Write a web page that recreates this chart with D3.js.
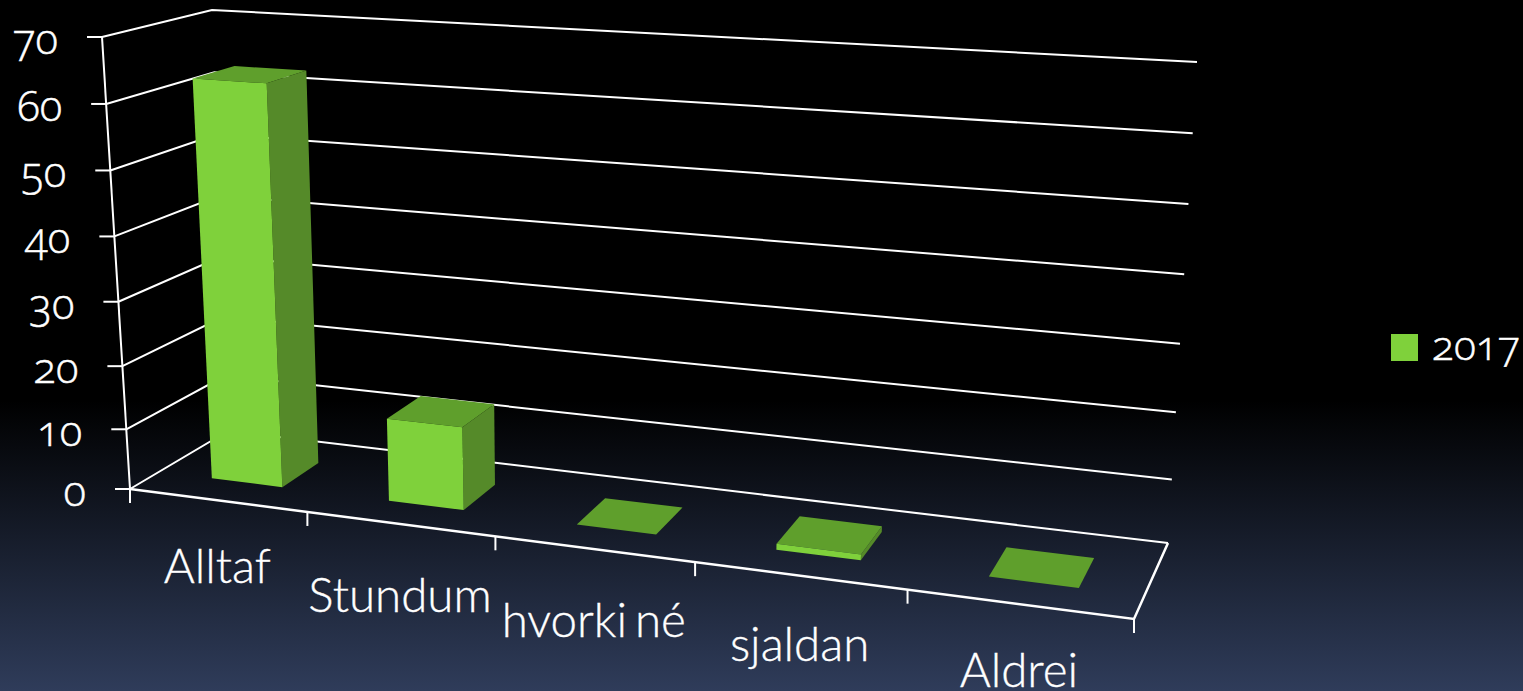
<!DOCTYPE html>
<meta charset="utf-8">
<style>
html, body { margin: 0; padding: 0; background: #000; overflow: hidden; }
svg { display: block; }
text {
  font-family: Lato, sans-serif;
  fill: white;
}
.xlabel { word-spacing: -5px; stroke: white; stroke-width: 0.35; }
.ylabel, .legendlabel {
  font-family: "Open Sans", sans-serif;
  font-variant-numeric: oldstyle-nums;
  font-weight: 300;
  stroke: white;
  stroke-width: 0.5;
}
.grid, .axis { fill: none; stroke: white; stroke-width: 2; }
.axis.front { stroke-width: 2.5; }
</style>
<body>
<script src="https://d3js.org/d3.v7.min.js"></script>
<script>

var width = 1523,
    height = 691;

var categories = ["Alltaf", "Stundum", "hvorki né", "sjaldan", "Aldrei"];
var values2017 = [63, 13.4, 0, 1, 0];
var yTicks = [0, 10, 20, 30, 40, 50, 60, 70];
var seriesName = "2017";

// corners of the 3d box as they land on the screen: f/b = front/back, l/r = left/right, 0/1 = floor/top
var box = {
  fl0: [130, 489], fl1: [102, 37],
  bl0: [228, 431], bl1: [212, 10],
  fr0: [1134, 619], fr1: [1166, 103],
  br0: [1168, 543], br1: [1197, 62]
};

// how far each category label sits under the front edge
var labelDrop = [83, 88, 88, 85, 83];

var band = d3.scaleBand()
    .domain(categories)
    .range([0.002, 1.002])
    .paddingInner(0.595)
    .paddingOuter(0.2975);

var yScale = d3.scalePow()
    .exponent(1.04)
    .domain([0, 70])
    .range([0, 1]);

var depthStart = 0.3,
    depthEnd = 0.7;

// u across categories, v is the value, w is depth
function project(u, v, w) {
  var t = u / (1.165 - 0.165 * u),
      h = yScale(v);
  function mix(a, b, k) { return a + (b - a) * k; }
  return [0, 1].map(function(i) {
    var floor = mix(mix(box.fl0[i], box.bl0[i], w), mix(box.fr0[i], box.br0[i], w), t),
        top = mix(mix(box.fl1[i], box.bl1[i], w), mix(box.fr1[i], box.br1[i], w), t);
    return mix(floor, top, h);
  });
}

var line = d3.line();

var svg = d3.select("body").append("svg")
    .attr("width", width)
    .attr("height", height);

var grad = svg.append("defs").append("linearGradient")
    .attr("id", "bg")
    .attr("x1", 0).attr("y1", 0)
    .attr("x2", 0).attr("y2", 1);
grad.append("stop").attr("offset", "0.58").attr("stop-color", "#000");
grad.append("stop").attr("offset", "1").attr("stop-color", "#2f3c5a");

svg.append("rect")
    .attr("width", width)
    .attr("height", height)
    .attr("fill", "url(#bg)");

// walls
svg.selectAll(".grid")
    .data(yTicks)
  .enter().append("path")
    .attr("class", "grid")
    .attr("d", function(d) {
      return line([project(0, d, 0), project(0, d, 1), project(1, d, 1)]);
    });

svg.append("path")
    .attr("class", "axis")
    .attr("d", line([project(0, 0, 0), project(0, 70, 0)]));

svg.selectAll(".ytick")
    .data(yTicks)
  .enter().append("path")
    .attr("class", "axis ytick")
    .attr("d", function(d) {
      var p = project(0, d, 0);
      return line([[p[0] - 15, p[1]], p]);
    });

svg.selectAll(".ylabel")
    .data(yTicks)
  .enter().append("text")
    .attr("class", "ylabel")
    .attr("x", function(d) { return project(0, d, 0)[0] - 44; })
    .attr("y", function(d) { return project(0, d, 0)[1] + 17; })
    .attr("text-anchor", "end")
    .style("font-size", "42px")
    .text(function(d) { return d; });

// floor
svg.append("path")
    .attr("class", "axis front")
    .attr("d", line([project(0, 0, 0), project(1, 0, 0), project(1, 0, 1)]));

svg.selectAll(".xtick")
    .data(d3.range(categories.length + 1))
  .enter().append("path")
    .attr("class", "axis xtick")
    .attr("d", function(i) {
      var p = project(i / categories.length, 0, 0);
      return line([p, [p[0], p[1] + 14]]);
    });

function labelAnchor(i) {
  return project((i + 0.5) / categories.length, 0, 0);
}

svg.selectAll(".xlabel")
    .data(categories)
  .enter().append("text")
    .attr("class", "xlabel")
    .attr("x", function(d, i) { return labelAnchor(i)[0]; })
    .attr("y", function(d, i) { return labelAnchor(i)[1] + labelDrop[i]; })
    .attr("text-anchor", "middle")
    .style("font-size", "47.5px")
    .style("font-weight", 300)
    .text(function(d) { return d; });

// bars
var bars = svg.selectAll(".bar")
    .data(categories.map(function(c, i) { return {name: c, value: values2017[i]}; }))
  .enter().append("g")
    .attr("class", "bar");

function face(fill, corners) {
  bars.append("path")
      .attr("fill", fill)
      .attr("d", function(d) {
        var u0 = band(d.name),
            u1 = u0 + band.bandwidth();
        return line(corners(u0, u1, d.value)) + "Z";
      });
}

face("#558a29", function(u0, u1, v) {
  return [project(u1, v, depthStart), project(u1, v, depthEnd), project(u1, 0, depthEnd), project(u1, 0, depthStart)];
});
face("#5f9f2c", function(u0, u1, v) {
  return [project(u0, v, depthStart), project(u0, v, depthEnd), project(u1, v, depthEnd), project(u1, v, depthStart)];
});
face("#7fd13b", function(u0, u1, v) {
  return [project(u0, v, depthStart), project(u1, v, depthStart), project(u1, 0, depthStart), project(u0, 0, depthStart)];
});

// legend
var legend = svg.append("g")
    .attr("transform", "translate(1391,334)");

legend.append("rect")
    .attr("width", 27)
    .attr("height", 27)
    .attr("fill", "#7fd13b");

legend.append("text")
    .attr("class", "legendlabel")
    .attr("x", 41)
    .attr("y", 26)
    .style("font-size", "41px")
    .text(seriesName);

</script>
